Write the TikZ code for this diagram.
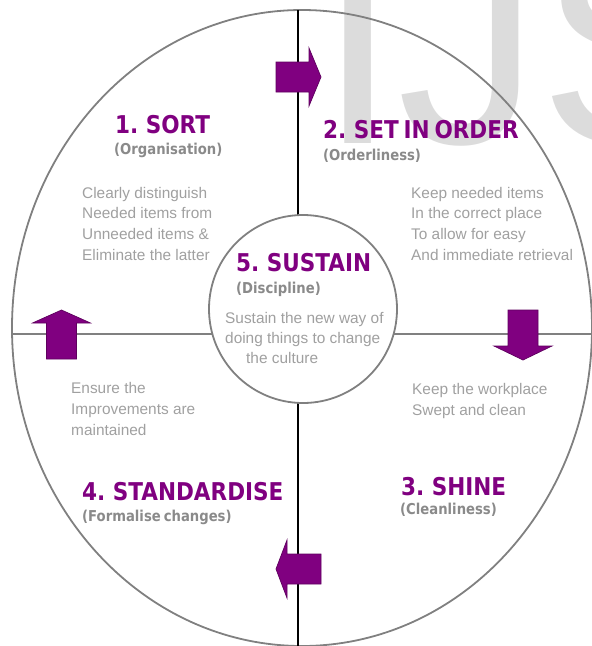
\documentclass[tikz,border=0pt]{standalone}
\usepackage{fontspec}
\setmainfont{Liberation Sans}
\newfontfamily\headfont{DejaVu Sans}[FakeStretch=0.88, WordSpace=0.65]

\definecolor{fsPurple}{HTML}{800080}
\definecolor{fsPurpleEdge}{HTML}{5E005E}
\definecolor{fsSub}{HTML}{8A8A8A}
\definecolor{fsBody}{HTML}{A0A0A0}
\definecolor{fsLine}{HTML}{808080}
\definecolor{fsMark}{HTML}{DCDCDC}

\tikzset{
  ttl/.style={font=\headfont\bfseries\fontsize{24.5}{24.5}\selectfont,
    text=fsPurple, anchor=base west, inner sep=0pt},
  subttl/.style={font=\headfont\bfseries\fontsize{15}{15}\selectfont,
    text=fsSub, anchor=base west, inner sep=0pt},
  % multi-line blocks are anchored at the baseline of their last line
  bodytxt/.style={font=\fontsize{15.4}{20.6}\selectfont,
    text=fsBody, anchor=base west, inner sep=0pt, align=left},
  pics/blockarrow/.style n args={2}{code={
    \filldraw[fill=fsPurple, draw=fsPurpleEdge, line width=0.7pt]
      (0,-15) -- (#1,-15) -- (#1,-29) -- (#1+#2,0) -- (#1,29) -- (#1,15)
      -- (0,15) -- cycle;
  }},
}

\begin{document}
\begin{tikzpicture}[x=1pt,y=-1pt]
\useasboundingbox (0,0) rectangle (592,646);
\clip (0,0) rectangle (592,646);

% background lettering
\node[font=\fontsize{285}{285}\selectfont, text=fsMark, anchor=base west,
      inner sep=0pt] (mark) at (318,143) {IJS};

% outer ring and the two axes
\coordinate (ringC) at (302,328);
\draw[fsLine, line width=1.8pt] (ringC) ellipse [x radius=290, y radius=318];
\coordinate (axTop) at (298,10);
\coordinate (axBot) at (298,646);
\coordinate (axL) at (12,334);
\coordinate (axR) at (592,334);
\draw[black, line width=1.6pt] (axTop) -- (axBot);
\draw[fsLine, line width=1.6pt] (axL) -- (axR);

% central circle
\node[circle, draw=fsLine, line width=1.8pt, fill=white,
      minimum size=188pt, inner sep=0pt] (hub) at (303,309) {};

% cycle arrows
\pic (arrR) at (276,77) {blockarrow={33}{12}};
\pic[rotate=-90] (arrD) at (523,310) {blockarrow={36}{14}};
\pic[rotate=180] (arrL) at (321,569) {blockarrow={34}{11}};
\pic[rotate=90] (arrU) at (61.5,359) {blockarrow={36}{13}};

% 1. sort
\node[ttl] (sortT) at (115,133) {1. SORT};
\node[subttl] (sortS) at (114,154) {(Organisation)};
\node[bodytxt] (sortB) at (82,260) {Clearly distinguish\\Needed items from\\Unneeded items \&\\Eliminate the latter};

% 2. set in order
\node[ttl] (setT) at (323,138) {2. SET IN ORDER};
\node[subttl] (setS) at (323,160) {(Orderliness)};
\node[bodytxt] (setB) at (411,260) {Keep needed items\\In the correct place\\To allow for easy\\And immediate retrieval};

% 3. shine
\node[ttl] (shineT) at (401,495) {3. SHINE};
\node[subttl] (shineS) at (400,514) {(Cleanliness)};
\node[bodytxt] (shineB) at (412,415) {Keep the workplace\\Swept and clean};

% 4. standardise
\node[ttl] (stdT) at (82,500) {4. STANDARDISE};
\node[subttl] (stdS) at (82,521) {(Formalise changes)};
\node[bodytxt] (stdB) at (71,435) {Ensure the\\Improvements are\\maintained};

% 5. sustain
\node[ttl] (susT) at (236,271) {5. SUSTAIN};
\node[subttl] (susS) at (236,293) {(Discipline)};
\node[bodytxt] (susB1) at (225,323) {Sustain the new way of};
\node[bodytxt] (susB2) at (225,343) {doing things to change};
\node[bodytxt] (susB3) at (246,363) {the culture};
\end{tikzpicture}
\end{document}
